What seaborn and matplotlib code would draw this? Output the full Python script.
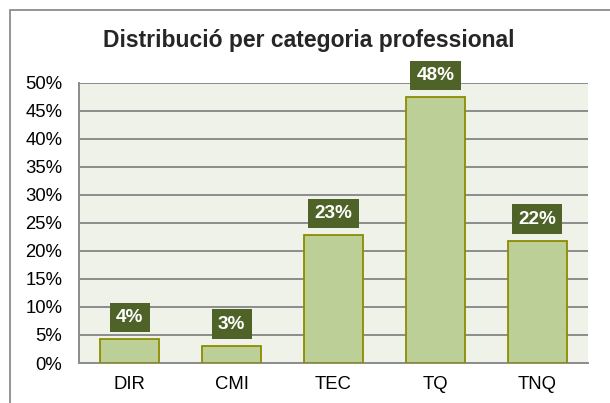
import matplotlib
matplotlib.use("Agg")
import matplotlib.pyplot as plt
import seaborn as sns
import pandas as pd
from matplotlib.patches import Rectangle
from matplotlib.ticker import FuncFormatter

categories = ["DIR", "CMI", "TEC", "TQ", "TNQ"]
values = [4.3, 3.1, 22.8, 47.4, 21.8]
labels = ["4%", "3%", "23%", "48%", "22%"]
yticks = [0, 5, 10, 15, 20, 25, 30, 35, 40, 45, 50]

sns.set_theme(style="white")
plt.rcParams["font.family"] = ["Liberation Sans", "DejaVu Sans"]

df = pd.DataFrame({"cat": categories, "val": values})

fig = plt.figure(figsize=(6.10, 4.03), dpi=100)
L, R, T, B = 79, 588, 82.5, 363
ax = fig.add_axes([L/610, 1-B/403, (R-L)/610, (B-T)/403])
ax.set_facecolor("#EFF2E9")

sns.barplot(data=df, x="cat", y="val", ax=ax, color="#BBCF96",
            saturation=1, width=0.58, edgecolor="#8C8C00", linewidth=1.3,
            zorder=3)

ax.set_ylim(0, 50)
ax.set_yticks(yticks)
ax.yaxis.set_major_formatter(FuncFormatter(lambda v, p: f"{int(v)}%"))
ax.grid(axis="y", color="#8C8C8C", linewidth=1.4, zorder=1)
ax.set_axisbelow(True)
ax.set_xlabel("")
ax.set_ylabel("")
ax.tick_params(axis="both", labelsize=13.3, colors="black", length=0)
ax.tick_params(axis="y", pad=12)
ax.tick_params(axis="x", pad=9.5)
for s in ["top", "right"]:
    ax.spines[s].set_visible(False)
for s in ["left", "bottom"]:
    ax.spines[s].set_color("#8C8C8C")
    ax.spines[s].set_linewidth(1.4)

for i, (v, lab) in enumerate(zip(values, labels)):
    ax.annotate(lab, xy=(i, v), xytext=(0, 15.5), textcoords="offset points",
                ha="center", va="center", fontsize=13.7, fontweight="bold",
                color="white", zorder=5, annotation_clip=False,
                bbox=dict(boxstyle="square,pad=0.33", fc="#4F6228", ec="none"))

fig.text(309/610, 1-41/403, "Distribució per categoria professional",
         ha="center", va="center", fontsize=16.5, fontweight="bold")

fig.patches.append(Rectangle((9.5/610, -0.05), 1.0, 1-10/403+0.05,
                             transform=fig.transFigure, fill=False,
                             ec="#8C8C8C", lw=1.3, clip_on=False))

fig.savefig("out.png", dpi=100)
